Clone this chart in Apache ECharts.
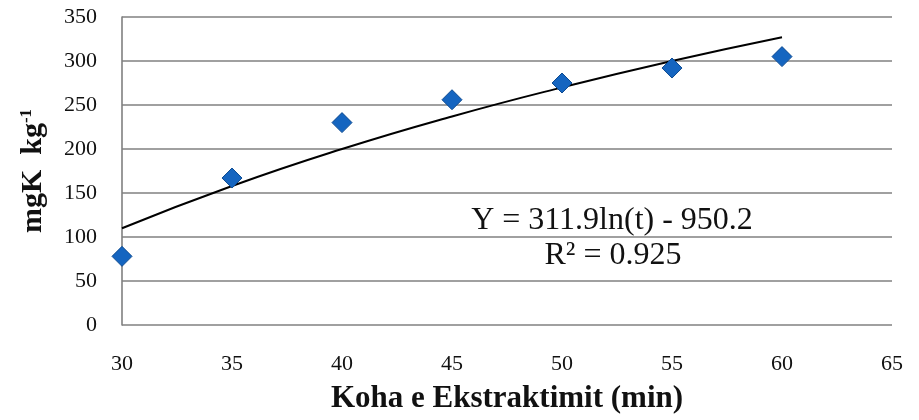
<!DOCTYPE html>
<html><head><meta charset="utf-8">
<script src="https://cdn.jsdelivr.net/npm/echarts@6/dist/echarts.min.js"></script>
<style>html,body{margin:0;padding:0;background:#fff}#c{width:919px;height:420px}</style>
</head><body><div id="c"></div>
<script>
const times = [30, 35, 40, 45, 50, 55, 60];
const measured = [78, 167, 230, 256, 275, 292, 305];
const trendTimes = [30, 35, 40, 45, 50, 55, 60];
const trendValues = [110, 158, 200, 237, 270, 300, 327];
const equationText = 'Y = 311.9ln(t) - 950.2';
const r2Text = 'R² = 0.925';

const chart = echarts.init(document.getElementById('c'));
const serif = '"Liberation Serif", "DejaVu Serif", serif';
chart.setOption({
  animation: false,
  grid: {left: 122, right: 27, top: 17, bottom: 95, outerBoundsMode: 'none', containLabel: false},
  xAxis: {
    type: 'value', min: 30, max: 65, interval: 5,
    axisLine: {show: false}, axisTick: {show: false},
    splitLine: {show: false},
    axisLabel: {margin: 28, fontFamily: serif, fontSize: 22, color: '#111'},
    name: 'Koha e Ekstraktimit (min)', nameLocation: 'middle', nameGap: 58,
    nameTextStyle: {fontFamily: serif, fontSize: 31, fontWeight: 'bold', color: '#111'}
  },
  yAxis: {
    type: 'value', min: 0, max: 350, interval: 50,
    axisLine: {show: true, lineStyle: {color: '#808080', width: 1.6}},
    axisTick: {show: false},
    splitLine: {lineStyle: {color: '#808080', width: 1.6}},
    axisLabel: {margin: 25, fontFamily: serif, fontSize: 22, color: '#111'},
    name: 'mgK  kg{sup|-1}', nameLocation: 'middle', nameGap: 74, nameRotate: 90,
    nameTextStyle: {
      fontFamily: serif, fontSize: 30, fontWeight: 'bold', color: '#111',
      rich: {sup: {fontFamily: serif, fontSize: 17, fontWeight: 'bold', color: '#111', verticalAlign: 'top', padding: [0, 0, 12, 0]}}
    }
  },
  series: [
    {
      type: 'line', data: trendTimes.map((t, i) => [t, trendValues[i]]),
      smooth: true, showSymbol: false, symbol: 'none',
      lineStyle: {color: '#000', width: 2}, z: 2
    },
    {
      type: 'scatter', data: times.map((t, i) => [t, measured[i]]),
      symbol: 'diamond', symbolSize: 20,
      itemStyle: {color: '#1565c0', borderColor: '#0d4a90', borderWidth: 1, opacity: 1}, z: 3
    }
  ],
  graphic: [
    {type: 'text', x: 612, y: 221, style: {text: equationText, font: '32px ' + serif, fill: '#111', align: 'center', verticalAlign: 'middle'}},
    {type: 'text', x: 613, y: 256, style: {text: r2Text, font: '32px ' + serif, fill: '#111', align: 'center', verticalAlign: 'middle'}}
  ]
});
</script></body></html>
